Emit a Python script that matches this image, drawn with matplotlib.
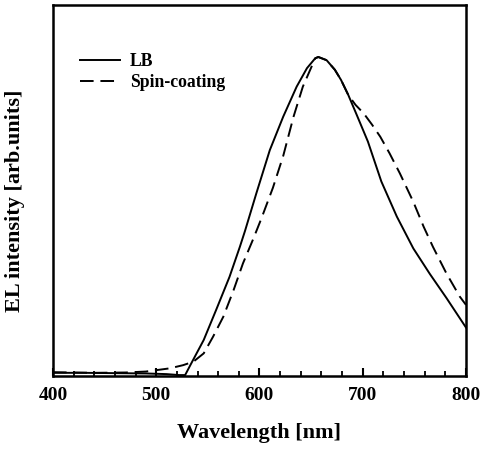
import matplotlib.pyplot as plt
from matplotlib.ticker import MultipleLocator

# LB film (solid)
wl_lb = [400, 430, 460, 490, 510, 522, 528, 534, 546, 558, 571, 581, 586, 597, 610,
         623, 636, 646, 654, 657, 665, 673, 679, 686, 694, 705, 718, 733, 749, 765,
         781, 800]
int_lb = [0.010, 0.010, 0.009, 0.008, 0.006, 0.003, 0.003, 0.040, 0.113, 0.207, 0.311,
          0.405, 0.455, 0.573, 0.708, 0.813, 0.907, 0.965, 0.996, 1.000, 0.990, 0.960,
          0.928, 0.881, 0.820, 0.735, 0.610, 0.500, 0.400, 0.320, 0.245, 0.152]

# spin-coated film (dashed)
wl_sc = [400, 440, 470, 490, 513, 526, 536, 546, 555, 565, 575, 584, 594, 602, 613,
         623, 633, 642, 649, 654, 657, 665, 673, 679, 686, 693, 701, 709, 717, 726,
         736, 749, 759, 768, 781, 794, 800]
int_sc = [0.012, 0.010, 0.011, 0.014, 0.024, 0.034, 0.045, 0.071, 0.123, 0.186, 0.270,
          0.353, 0.430, 0.495, 0.590, 0.690, 0.813, 0.907, 0.959, 0.996, 1.000, 0.990,
          0.960, 0.928, 0.881, 0.850, 0.823, 0.788, 0.750, 0.698, 0.635, 0.546, 0.468,
          0.405, 0.322, 0.249, 0.223]

LABELS = ["LB", "Spin-coating"]
FONT = "Liberation Serif"

plt.rcParams["font.family"] = FONT
plt.rcParams["font.weight"] = "bold"

fig = plt.figure(figsize=(4.86, 4.5), dpi=100)
ax = fig.add_axes([0.109, 0.1644, 0.8498, 0.8245])

ax.plot(wl_lb, int_lb, color="black", lw=1.4, label=LABELS[0])
ax.plot(wl_sc, int_sc, color="black", lw=1.4, dashes=(7, 3.5), label=LABELS[1])

ax.set_xlim(400, 800)
ax.set_ylim(0, 1.163)

for s in ax.spines.values():
    s.set_linewidth(1.8)

ax.xaxis.set_major_locator(MultipleLocator(100))
ax.xaxis.set_minor_locator(MultipleLocator(20))
ax.tick_params(axis="x", which="major", direction="in", length=6, width=1.5,
               labelsize=14, pad=8)
ax.tick_params(axis="x", which="minor", direction="in", length=3.5, width=1.3)
ax.tick_params(axis="y", left=False, labelleft=False)
for t in ax.get_xticklabels():
    t.set_fontweight("bold")

ax.set_xlabel("Wavelength [nm]", fontsize=16, fontweight="bold")
ax.xaxis.label.set_va("center")
ax.xaxis.set_label_coords(0.5, -0.154)
ax.set_ylabel("EL intensity [arb.units]", fontsize=16, fontweight="bold")
ax.yaxis.label.set_va("center")
ax.yaxis.set_label_coords(-0.092, 0.472)

ax.legend(loc="upper left", bbox_to_anchor=(0.065, 0.870), frameon=False,
          handlelength=2.27, handletextpad=0.57, labelspacing=0.2,
          borderpad=0, borderaxespad=0, prop={"family": FONT, "weight": "bold", "size": 12.7})

fig.savefig("out.png", dpi=100)
